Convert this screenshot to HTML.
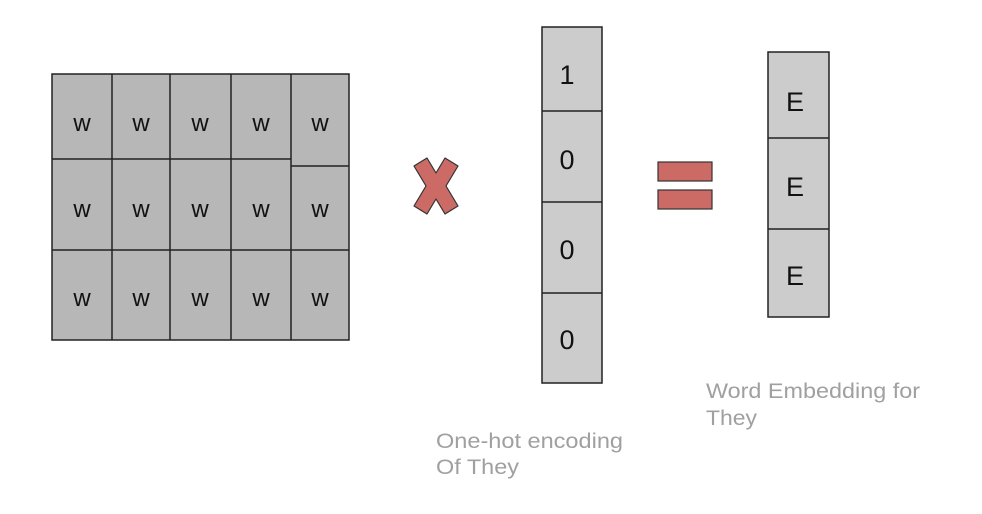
<!DOCTYPE html>
<html><head><meta charset="utf-8"><style>
html,body{margin:0;padding:0;background:#fff;}
svg{display:block;font-family:"Liberation Sans",Arial,sans-serif;}
</style></head><body>
<svg width="982" height="514" viewBox="0 0 982 514">
<g stroke="#222" stroke-width="1.5" fill="#b7b7b7">
<rect x="52" y="74" width="297" height="266"/>
<line x1="112" y1="74" x2="112" y2="340"/>
<line x1="170" y1="74" x2="170" y2="340"/>
<line x1="231" y1="74" x2="231" y2="340"/>
<line x1="291" y1="74" x2="291" y2="340"/>
<line x1="52" y1="159" x2="291" y2="159"/>
<line x1="291" y1="166" x2="349" y2="166"/>
<line x1="52" y1="250" x2="349" y2="250"/>
</g>
<g font-size="24" fill="#111" text-anchor="middle">
<text x="82" y="131">w</text><text x="141" y="131">w</text><text x="200" y="131">w</text><text x="261" y="131">w</text><text x="320" y="131">w</text>
<text x="82" y="217">w</text><text x="141" y="217">w</text><text x="200" y="217">w</text><text x="261" y="217">w</text><text x="320" y="217">w</text>
<text x="82" y="306">w</text><text x="141" y="306">w</text><text x="200" y="306">w</text><text x="261" y="306">w</text><text x="320" y="306">w</text>
</g>
<g>
<path d="M414,166 L427,158 L436,173 L445,158 L458,166 L446,186 L458,206 L445,214 L436,199 L427,214 L414,206 L426,186 Z" fill="#cc6b66" stroke="#333" stroke-width="1.2" stroke-linejoin="round"/>
</g>
<g stroke="#222" stroke-width="1.5" fill="#cccccc">
<rect x="542" y="27" width="60" height="356"/>
<line x1="542" y1="111" x2="602" y2="111"/>
<line x1="542" y1="202" x2="602" y2="202"/>
<line x1="542" y1="293" x2="602" y2="293"/>
</g>
<g font-size="27" fill="#111" text-anchor="middle">
<text x="567" y="84">1</text><text x="567" y="169">0</text><text x="567" y="259">0</text><text x="567" y="349">0</text>
</g>
<g fill="#cc6b66" stroke="#333" stroke-width="1.2">
<rect x="658" y="162" width="54" height="19"/>
<rect x="658" y="190" width="54" height="19"/>
</g>
<g stroke="#222" stroke-width="1.5" fill="#cccccc">
<rect x="768" y="52" width="61" height="265"/>
<line x1="768" y1="138" x2="829" y2="138"/>
<line x1="768" y1="229" x2="829" y2="229"/>
</g>
<g font-size="27" fill="#111" text-anchor="middle">
<text x="795" y="111">E</text><text x="795" y="196">E</text><text x="795" y="285">E</text>
</g>
<g font-size="21" fill="#a0a0a0">
<text x="436" y="448" textLength="187" lengthAdjust="spacingAndGlyphs">One-hot encoding</text>
<text x="436" y="474" textLength="83" lengthAdjust="spacingAndGlyphs">Of They</text>
</g>
<g font-size="21" fill="#a0a0a0">
<text x="706" y="398" textLength="214" lengthAdjust="spacingAndGlyphs">Word Embedding for</text>
<text x="706" y="425" textLength="51" lengthAdjust="spacingAndGlyphs">They</text>
</g>
</svg>
</body></html>
